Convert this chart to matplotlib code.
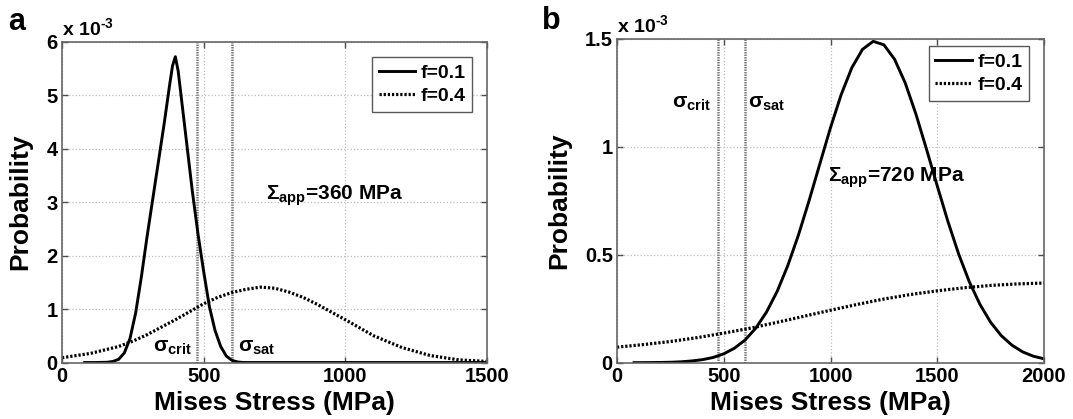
import matplotlib
matplotlib.use("Agg")
import matplotlib.pyplot as plt

plt.rcParams['font.family'] = ['Liberation Sans', 'DejaVu Sans']
plt.rcParams['font.weight'] = 'bold'
plt.rcParams['mathtext.fontset'] = 'custom'
plt.rcParams['mathtext.rm'] = 'Liberation Sans:bold'
plt.rcParams['mathtext.bf'] = 'Liberation Sans:bold'
plt.rcParams['mathtext.it'] = 'Liberation Sans:bold'

# Data (probability in units of 1e-3)

# panel a, Sigma_app = 360 MPa
stress_a1 = [80, 120, 160, 180, 200, 220, 240, 260, 280, 300, 320, 340, 360, 380, 390,
             400, 410, 420, 440, 460, 480, 500, 520, 540, 560, 580, 600, 620, 640, 700,
             800, 1000, 1200, 1500]
prob_a1 = [0, 0, 0.005, 0.02, 0.06, 0.18, 0.45, 0.93, 1.6, 2.35, 3.05, 3.75, 4.45, 5.2, 5.55,
           5.72, 5.45, 5.0, 4.1, 3.2, 2.4, 1.7, 1.05, 0.6, 0.3, 0.12, 0.04, 0.01, 0, 0,
           0, 0, 0, 0]

stress_a4 = [0, 100, 200, 250, 300, 400, 500, 550, 600, 650, 700, 750, 800, 850, 900,
             1000, 1100, 1200, 1300, 1400, 1500]
prob_a4 = [0.09, 0.17, 0.3, 0.4, 0.52, 0.8, 1.1, 1.22, 1.31, 1.37, 1.41, 1.39, 1.32, 1.22, 1.09,
           0.8, 0.5, 0.28, 0.13, 0.05, 0.02]

# panel b, Sigma_app = 720 MPa
stress_b1 = [80, 100, 150, 200, 250, 300, 350, 400, 450, 500, 550, 600, 650, 700, 750,
             800, 850, 900, 950, 1000, 1050, 1100, 1150, 1200, 1250, 1300, 1350, 1400, 1450,
             1500, 1550, 1600, 1650, 1700, 1750, 1800, 1850, 1900, 1950, 2000]
prob_b1 = [0.0002, 0.0002, 0.0005, 0.001, 0.002, 0.004, 0.008, 0.014, 0.024, 0.041, 0.067,
           0.105, 0.16, 0.234, 0.33, 0.45, 0.592, 0.752, 0.921, 1.089, 1.242, 1.367, 1.452,
           1.489, 1.473, 1.406, 1.296, 1.152, 0.988, 0.819, 0.654, 0.504, 0.375, 0.27, 0.187,
           0.125, 0.081, 0.05, 0.03, 0.018]

stress_b4 = [0, 125, 250, 375, 500, 625, 750, 875, 1000, 1125, 1250, 1375, 1500, 1625,
             1750, 1875, 2000]
prob_b4 = [0.072, 0.084, 0.098, 0.116, 0.137, 0.16, 0.187, 0.215, 0.243, 0.27, 0.295, 0.316,
           0.333, 0.347, 0.358, 0.365, 0.369]

sigma_crit = 475
sigma_sat = 600

fig = plt.figure(figsize=(10.73, 4.19), dpi=100)
ax_a = fig.add_axes([0.0578, 0.1348, 0.3961, 0.7656])
ax_b = fig.add_axes([0.575, 0.1344, 0.398, 0.7726])


def style_axes(ax, xmax, ymax, yticks, yticklabels, legend_y):
    ax.set_xlim(0, xmax)
    ax.set_ylim(0, ymax)
    ax.set_yticks(yticks)
    ax.set_yticklabels(yticklabels)
    ax.grid(True, color='0.75', linestyle=':', linewidth=0.9)
    ax.tick_params(direction='in', length=4, width=1, top=True, right=True,
                   labelsize=14.5, colors='0.3', labelcolor='black', pad=3)
    for sp in ax.spines.values():
        sp.set_color('0.4')
        sp.set_linewidth(1.2)
    ax.set_xlabel('Mises Stress (MPa)', fontsize=19, fontweight='bold', labelpad=3.5)
    ax.set_ylabel('Probability', fontsize=19, fontweight='bold', labelpad=10)
    ax.text(0.0, 1.0 + 7 / 322, r'x 10$^{\text{-3}}$', transform=ax.transAxes,
            ha='left', va='baseline', fontsize=14, fontweight='bold')
    leg = ax.legend(loc='upper right', bbox_to_anchor=(0.965, legend_y), borderaxespad=0,
                    fontsize=14, handlelength=1.9, handletextpad=0.25, borderpad=0.35,
                    labelspacing=0.3, fancybox=False, framealpha=1)
    leg.get_frame().set_edgecolor('0.35')
    leg.get_frame().set_linewidth(1.0)


# Panel a
for s in [sigma_crit, sigma_sat]:
    ax_a.axvline(s, color='0.5', linewidth=1.8, linestyle=(0, (0.6, 0.4)))
ax_a.plot(stress_a1, prob_a1, color='black', linewidth=2.1, label='f=0.1')
ax_a.plot(stress_a4, prob_a4, color='black', linewidth=2.3, linestyle=(0, (0.7, 0.6)),
          dash_capstyle='butt', label='f=0.4')
ax_a.set_xticks([0, 500, 1000, 1500])
style_axes(ax_a, 1500, 6, range(0, 7), [str(v) for v in range(0, 7)], 0.952)
ax_a.text(720, 3.05, r'$\Sigma_{app}$=360 MPa', fontsize=15, fontweight='bold')
ax_a.text(320, 0.2, r'σ$_{crit}$', fontsize=15, fontweight='bold')
ax_a.text(622, 0.2, r'σ$_{sat}$', fontsize=15, fontweight='bold')

# Panel b
for s in [sigma_crit, sigma_sat]:
    ax_b.axvline(s, color='0.5', linewidth=1.8, linestyle=(0, (0.6, 0.4)))
ax_b.plot(stress_b1, prob_b1, color='black', linewidth=2.1, label='f=0.1')
ax_b.plot(stress_b4, prob_b4, color='black', linewidth=2.3, linestyle=(0, (0.7, 0.6)),
          dash_capstyle='butt', label='f=0.4')
ax_b.set_xticks([0, 500, 1000, 1500, 2000])
style_axes(ax_b, 2000, 1.5, [0, 0.5, 1, 1.5], ['0', '0.5', '1', '1.5'], 0.978)
ax_b.text(990, 0.84, r'$\Sigma_{app}$=720 MPa', fontsize=15, fontweight='bold')
ax_b.text(258, 1.18, r'σ$_{crit}$', fontsize=15, fontweight='bold')
ax_b.text(612, 1.18, r'σ$_{sat}$', fontsize=15, fontweight='bold')

# panel letters
fig.text(8 / 1073, 1 - 30 / 419, 'a', fontsize=22, fontweight='bold', va='baseline')
fig.text(542 / 1073, 1 - 29 / 419, 'b', fontsize=22, fontweight='bold', va='baseline')

fig.savefig('out.png', dpi=100)
